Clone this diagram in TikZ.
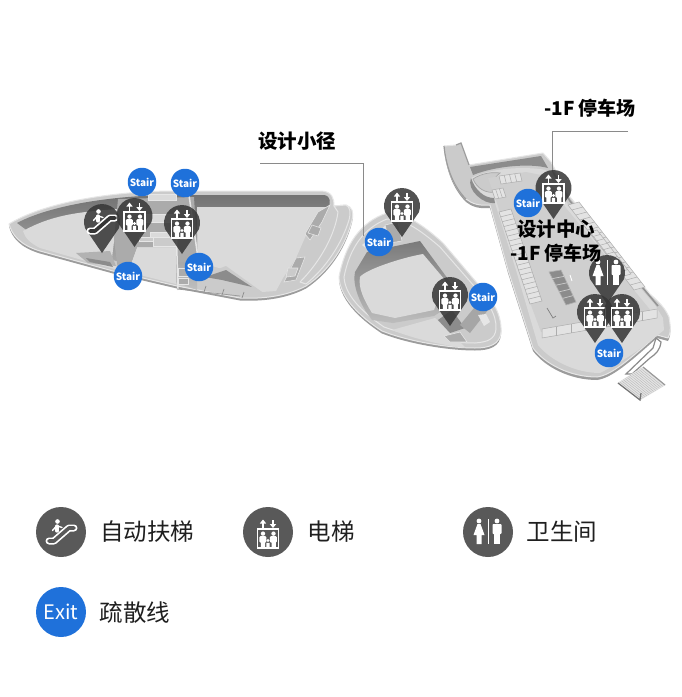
\documentclass[tikz,border=0pt]{standalone}
\usepackage{fontspec}
\newfontfamily\cjk{Noto Sans CJK SC}
\usetikzlibrary{calc}
\definecolor{rimc}{HTML}{CBCBCB}
\definecolor{rimlight}{HTML}{E6E6E6}
\definecolor{edgec}{HTML}{9C9C9C}
\definecolor{wallc}{HTML}{8C8C8C}
\definecolor{floorc}{HTML}{DADADA}
\definecolor{parkc}{HTML}{CFCFCF}
\definecolor{stallc}{HTML}{E3E3E3}
\definecolor{blockc}{HTML}{ABABAB}
\definecolor{bluec}{HTML}{1F71DA}
\definecolor{pinc}{HTML}{363636}
\definecolor{legc}{HTML}{595959}
\definecolor{leadc}{HTML}{8A8A8A}
\tikzset{
  x=1pt,y=-1pt,
  rimshape/.style={fill=rimc,draw=rimlight,line width=1pt,line join=round},
  edgeshape/.style={fill=edgec,draw=none},
  floorshape/.style={fill=floorc,draw=none},
  blockshape/.style={fill=blockc,draw=rimlight,line width=.6pt},
  stallline/.style={draw=black!32,line width=.5pt},
  leadline/.style={draw=leadc,line width=.9pt},
  stairbtn/.style={circle,fill=bluec,draw=none,minimum size=28.5pt,inner sep=0pt,text=white,font=\cjk\bfseries\fontsize{10}{10}\selectfont},
  maplabel/.style={font=\cjk\bfseries\fontsize{19.5}{21}\selectfont,text=black,inner sep=0pt},
  parklabel/.style={font=\cjk\bfseries\fontsize{19}{21}\selectfont,text=black,inner sep=0pt},
  leglabel/.style={font=\cjk\fontsize{23.5}{25}\selectfont,text=black!88,inner sep=0pt},
  legdisc/.style={circle,fill=legc,draw=none,minimum size=50pt,inner sep=0pt},
  legexit/.style={circle,fill=bluec,draw=none,minimum size=50pt,inner sep=0pt,text=white,font=\cjk\fontsize{20}{20}\selectfont},
  elevicon/.pic={
    \draw[white,line width=1.1pt,fill=none] (-10.5,-4) rectangle (10.5,15);
    \fill[white] (-5,.6) circle (2.2) (5.5,.6) circle (2.2) (0,7.5) circle (1.7);
    \fill[white,rounded corners=1pt] (-8.6,3.2) rectangle (-1.6,9.5) (1.9,3.2) rectangle (8.9,9.5);
    \fill[white] (-7.2,9) rectangle (-3,14) (3.6,9) rectangle (7.8,14) (-1.7,9.8) rectangle (1.7,14);
    \draw[white,line width=1.2pt] (-5,-5.5) -- (-5,-11);
    \fill[white] (-8.2,-9.5) -- (-5,-13.5) -- (-1.8,-9.5) -- cycle;
    \draw[white,line width=1.2pt] (5,-13) -- (5,-8);
    \fill[white] (1.8,-9) -- (5,-5) -- (8.2,-9) -- cycle;
  },
  escicon/.pic={
    \draw[white,line width=7pt,line cap=round,line join=round] (-12,9) -- (-7,9) -- (8,-4) -- (13,-4);
    \draw[#1,line width=3.6pt,line cap=round,line join=round] (-12,9) -- (-7,9) -- (8,-4) -- (13,-4);
    \fill[white] (-3.5,-10.5) circle (2.3);
    \draw[white,line width=3.2pt,line cap=round] (-4,-6) -- (-4,-1);
    \draw[white,line width=1.4pt,line cap=round] (-4.5,-6) -- (-8.5,-1.5);
    \draw[white,line width=1.4pt,line cap=round] (-3.5,-6) -- (1,-4.5);
  },
  wcicon/.pic={
    \fill[white] (-9,-11) circle (2.4) (9,-11) circle (2.4);
    \fill[white] (-10.5,-8) -- (-7.5,-8) -- (-3.5,3) -- (-6.5,3) -- (-6.5,12) -- (-11.5,12) -- (-11.5,3) -- (-14.5,3) -- cycle;
    \fill[white,rounded corners=.8pt] (4.5,-8) rectangle (13.5,2);
    \fill[white] (6,1) rectangle (12,12);
    \draw[white,line width=1pt] (0,-13) -- (0,12);
  },
  pinbody/.pic={
    \fill[pinc,fill opacity=.86] (0,31) -- (-16.9,6.2) .. controls (-21.2,-5.5) and (-12.5,-18) .. (0,-18)
      .. controls (12.5,-18) and (21.2,-5.5) .. (16.9,6.2) -- cycle;
  }
}
\newcommand{\stallrow}[7]{%
  \draw[stallline,fill=stallc] (#1,#2) -- (#3,#4) -- ++(#5,#6) -- ($(#1,#2)+(#5,#6)$) -- cycle;
  \foreach \k in {1,...,#7}{
    \draw[stallline] ($(#1,#2)!{\k/(#7+1)}!(#3,#4)$) -- ++(#5,#6);
  }%
}
\newcommand{\leftoutline}{(9,224) .. controls (40,205) and (100,192) .. (170,191) -- (322,191)
  .. controls (332,192) and (334,198) .. (334,206) -- (346,205)
  .. controls (352,207) and (354,212) .. (352,220)
  .. controls (346,245) and (330,270) .. (306,286)
  .. controls (285,297) and (260,299) .. (240,298)
  -- (177,286) -- (113,271) -- (40,251) .. controls (20,245) and (12,235) .. (9,224) -- cycle}
\newcommand{\midoutline}{(339,277) .. controls (345,245) and (360,222) .. (387,213)
  .. controls (402,212) and (420,222) .. (443,243) -- (477,283)
  .. controls (490,297) and (502,312) .. (501,332)
  .. controls (500,344) and (490,348) .. (475,348)
  .. controls (450,348) and (410,342) .. (382,331)
  .. controls (365,320) and (340,300) .. (339,277) -- cycle}
\newcommand{\rightoutline}{(444,146) .. controls (446,165) and (452,185) .. (466,199)
  .. controls (472,204) and (480,206) .. (490,205)
  -- (508,270) -- (533,348)
  .. controls (545,364) and (570,377) .. (597,377)
  .. controls (612,375) and (630,359) .. (657,335)
  -- (668,338) .. controls (672,330) and (670,325) .. (669,317)
  .. controls (665,308) and (660,303) .. (650,294)
  -- (570,197) -- (551,162) -- (543,153) -- (469,165) -- (461,143) -- (456,145) -- cycle}
\begin{document}
\begin{tikzpicture}
\useasboundingbox (0,0) rectangle (682,697);
\fill[white] (0,0) rectangle (682,697);

% ---------- left building ----------
\path[edgeshape,shift={(0,2.5)}] \leftoutline;
\path[rimshape] \leftoutline;
\path[top color=black!55,bottom color=black!25] (17,223) .. controls (45,208) and (100,196) .. (170,195) -- (324,195)
  .. controls (331,196) and (331,203) .. (328,209) -- (197,214) -- (197,290) -- (120,262) -- (40,240) -- cycle;
\path[floorshape] (23,231) .. controls (50,216) and (75,212) .. (118,209)
  -- (112,258) -- (118,270) -- (75,258) -- (40,248) .. controls (30,243) and (25,238) .. (23,231) -- cycle;
\path[floorshape] (197,207) -- (327,207) -- (307,233) -- (296,258) -- (283,278) -- (276,291) -- (262,292) -- (226,270) -- (198,262) -- cycle;
\path[floorshape] (137,247) -- (176,247) -- (176,284) -- (128,272) -- cycle;
\path[fill=rimc] (262,292) -- (226,266) -- (200,276) -- (200,288) -- cycle;
\path[fill=black!45] (205,277) -- (226,270) -- (252,287) -- (222,280) -- cycle;
% central stair band
\path[fill=blockc] (118,199) -- (194,197) -- (198,262) -- (176,262) -- (176,247) -- (137,247) -- (128,272) -- (118,270) -- (114,240) -- cycle;
\path[blockshape,fill=floorc] (148,194) rectangle (176,200);
\path[blockshape,fill=floorc] (145,214) rectangle (176,222);
\path[blockshape,fill=floorc] (150,232) rectangle (176,240);
\path[blockshape,fill=rimc] (139,237) rectangle (153,241);
\path[blockshape,fill=rimc] (153,237) rectangle (176,246);
\path[blockshape] (124,262) rectangle (133,272);
\path[draw=rimlight,line width=1.5pt] (176,222) -- (178,290);
\path[draw=rimlight,line width=1.5pt] (189,195) -- (199,265);
\path[blockshape] (178,268) rectangle (190,276);
\path[blockshape] (178,278) rectangle (188,284);
\path[draw=white!60!black,line width=.7pt] (177,289) -- (240,296);
\foreach \a/\b in {206/287,224/290,244/293}{\draw[white!55!black,line width=.7pt] (\a,\b-1) -- (\a-2,\b+5);}
% left low stairs
\path[fill=white!70!black] (76,253) -- (110,251) -- (116,266) -- (88,263) -- cycle;
\path[fill=white!55!black] (86,258) -- (110,262) -- (113,267) -- (90,262) -- cycle;
% right small structures
\path[blockshape] (330,205) -- (318,212) -- (305,234) -- (310,240) -- (322,222) -- cycle;
\path[blockshape] (312,225) -- (321,228) -- (318,236) -- (308,233) -- cycle;
\path[blockshape] (296,258) -- (305,257) -- (296,280) -- (284,282) -- cycle;
\path[blockshape,fill=rimc] (288,268) -- (298,268) -- (295,276) -- (286,277) -- cycle;
\path[rimshape] (334,206) -- (346,205) .. controls (350,207) and (351,212) .. (349,220)
   .. controls (342,243) and (326,268) .. (306,284) -- (300,282)
   .. controls (320,262) and (335,235) .. (338,212) -- cycle;

% ---------- middle building ----------
\path[edgeshape,shift={(0,2.5)}] \midoutline;
\path[rimshape] \midoutline;
\path[draw=rimlight,line width=1pt,fill=none] (344,277) .. controls (350,247) and (364,228) .. (387,219)
  .. controls (402,218) and (418,228) .. (440,247) -- (474,286)
  .. controls (486,299) and (497,314) .. (496,329)
  .. controls (495,339) and (488,342) .. (475,343)
  .. controls (450,343) and (412,337) .. (384,327)
  .. controls (368,316) and (345,298) .. (344,277) -- cycle;
\path[top color=black!52,bottom color=black!26] (355,272) -- (367,252) -- (420,241) -- (462,298) -- (434,316) -- (393,323) -- (372,320) .. controls (360,305) and (352,285) .. (355,272) -- cycle;
\path[floorshape] (360,277) .. controls (365,270) and (400,258) .. (423,254) -- (445,280) -- (434,310) -- (395,318) -- (372,313) .. controls (364,300) and (358,288) .. (360,277) -- cycle;
\path[floorshape] (392,330) -- (435,318) -- (466,348) .. controls (440,345) and (412,338) .. (392,330) -- cycle;
\path[fill=rimlight] (362,245) -- (385,226) -- (398,240) -- (368,250) -- cycle;
\path[blockshape] (385,225) -- (398,222) -- (402,241) -- (390,243) -- cycle;
\path[fill=black!45] (438,320) -- (452,310) -- (465,328) -- (450,333) -- cycle;
\path[blockshape] (444,336) -- (460,332) -- (467,342) -- (450,342) -- cycle;
\path[fill=black!35] (460,325) -- (474,308) -- (488,310) -- (470,333) -- cycle;
\path[fill=rimlight] (478,315) -- (486,314) -- (490,322) -- (484,326) -- cycle;

% ---------- right building ----------
\path[edgeshape,shift={(0,3)}] \rightoutline;
\path[rimshape] \rightoutline;
\draw[edgec,line width=1.2pt] (444,146) .. controls (446,165) and (452,185) .. (466,199);
\draw[edgec,line width=1.2pt] (456,145) -- (461,143) -- (469,165);
\path[fill=black!45] (470,167) -- (541,156) -- (548,168) .. controls (530,163) and (495,166) .. (473,175) -- cycle;
\path[floorshape] (471,178) .. controls (490,168) and (525,166) .. (546,170) -- (567,203) -- (655,305)
  -- (663,318) -- (664,330) .. controls (640,350) and (625,360) .. (600,373) .. controls (575,373) and (550,360) .. (538,345)
  -- (516,270) -- (495,203) .. controls (482,203) and (473,192) .. (471,178) -- cycle;
\path[fill=black!45] (471,178) .. controls (466,190) and (484,205) .. (495,203) -- (494,198) .. controls (484,198) and (475,190) .. (471,178) -- cycle;
\path[fill=rimc,draw=black!35,line width=.7pt] (473,179) .. controls (482,173) and (492,172) .. (500,173) .. controls (492,179) and (492,186) .. (497,192) .. controls (485,194) and (477,188) .. (473,179) -- cycle;
\path[fill=parkc] (488,178) -- (526,172) -- (546,176) -- (566,208) -- (652,312) -- (541,332) -- (518,270) -- (497,203) -- cycle;
\path[draw=black!42,line width=1.6pt] (553,172) -- (570,201) -- (658,306);
% parking rows
\stallrow{499}{212}{530}{304}{12}{-3}{18}
\stallrow{499}{176}{520}{173}{2}{8}{3}
\stallrow{492}{190}{503}{188}{3}{9}{2}
\stallrow{568}{205}{634}{290}{11}{-3}{16}
\stallrow{590}{232}{624}{276}{7}{-2}{9}
\stallrow{542}{329}{657}{309}{0}{9}{7}
\path[fill=black!45,draw=white!70!black,line width=.6pt] (549,272) -- (561,270) -- (576,302) -- (566,305) -- cycle;
\foreach \t in {0.2,0.4,0.6,0.8}{\draw[white!80!black,line width=.7pt] ($(549,272)!\t!(566,305)$) -- ($(561,270)!\t!(576,302)$);}
\draw[white,line width=.8pt] (570,275) -- (572,281);
\draw[white!50!black,line width=.7pt] (547,308) -- (553,318) -- (556,316);
% ramp at bottom right
\path[fill=white,draw=black!45,line width=1.2pt] (626,374) -- (653,348) -- (656,338) -- (661,342) .. controls (660,350) and (656,354) .. (650,358) -- (632,374) -- cycle;
\path[fill=stallc,draw=rimlight,line width=.6pt] (618,383) -- (643,367) -- (665,385) -- (640,400) -- cycle;
\foreach \t in {.07,.14,...,.96}{\draw[black!30,line width=.3pt] ($(618,383)!\t!(643,367)$) -- ($(640,400)!\t!(665,385)$);}
\path[draw=black!55,line width=1.2pt] (618,383) -- (640,400) -- (641,393);
\path[draw=black!40,line width=1.2pt] (643,367) -- (665,385);

% ---------- leader lines ----------
\coordinate (la) at (260,163);
\coordinate (lb) at (363,163);
\coordinate (lc) at (363,236);
\coordinate (ld) at (628,131);
\coordinate (le) at (552,131);
\coordinate (lf) at (552,172);
\draw[leadline] (la) -- (lb) -- (lc);
\draw[leadline] (ld) -- (le) -- (lf);

% ---------- pins ----------
\pic at (102,222) {pinbody};
\pic at (102,222) {escicon=pinc};
\pic at (134.5,216) {pinbody};
\pic at (134.5,216) {elevicon};
\pic at (182,223) {pinbody};
\pic at (182,223) {elevicon};
\pic at (402,206) {pinbody};
\pic at (402,206) {elevicon};
\pic at (450,295) {pinbody};
\pic at (450,295) {elevicon};
\pic at (553.5,188) {pinbody};
\pic at (553.5,188) {elevicon};
\pic at (607,273) {pinbody};
\pic at (607,273) {wcicon};
\pic at (595,312) {pinbody};
\pic at (595,312) {elevicon};
\pic at (622,312) {pinbody};
\pic at (622,312) {elevicon};

% ---------- stair markers ----------
\node[stairbtn] (s1) at (142,182) {Stair};
\node[stairbtn] (s2) at (185,183) {Stair};
\node[stairbtn] (s3) at (128,276) {Stair};
\node[stairbtn] (s4) at (199,267) {Stair};
\node[stairbtn] (s5) at (379,242) {Stair};
\node[stairbtn] (s6) at (483,297) {Stair};
\node[stairbtn] (s7) at (528,203) {Stair};
\node[stairbtn] (s8) at (609,353) {Stair};

% ---------- labels ----------
\node[maplabel] (t1) at (297,141) {设计小径};
\node[parklabel] (t2) at (590,108.5) {-1F 停车场};
\node[maplabel] (t3) at (556,229) {设计中心};
\node[parklabel] (t4) at (556,253) {-1F 停车场};

% ---------- legend ----------
\node[legdisc] (g1) at (61,532) {};
\pic at (61,532) {escicon=legc};
\node[leglabel] (g1t) at (147,532) {自动扶梯};
\node[legdisc] (g2) at (268,532) {};
\pic at (268,533) {elevicon};
\node[leglabel] (g2t) at (331,532) {电梯};
\node[legdisc] (g3) at (488,532) {};
\pic at (488,532) {wcicon};
\node[leglabel] (g3t) at (562,532) {卫生间};
\node[legexit] (g4) at (61,612) {Exit};
\node[leglabel] (g4t) at (135,613) {疏散线};
\end{tikzpicture}
\end{document}
